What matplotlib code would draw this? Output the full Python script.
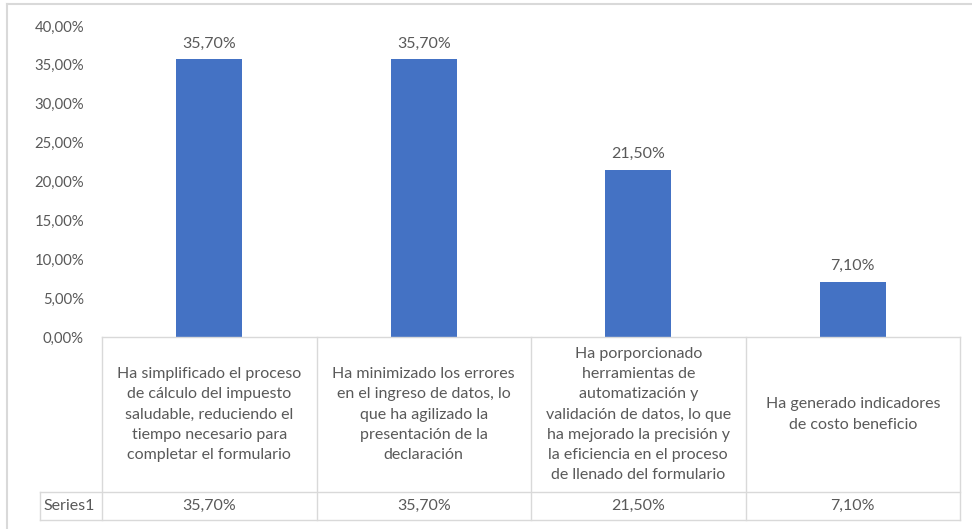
import matplotlib
matplotlib.use("Agg")
import matplotlib.pyplot as plt
from matplotlib.lines import Line2D
import numpy as np

CATEGORIES = [
    "Ha simplificado el proceso\nde cálculo del impuesto\nsaludable, reduciendo el\ntiempo necesario para\ncompletar el formulario",
    "Ha minimizado los errores\nen el ingreso de datos, lo\nque ha agilizado la\npresentación de la\ndeclaración",
    "Ha porporcionado\nherramientas de\nautomatización y\nvalidación de datos, lo que\nha mejorado la precisión y\nla eficiencia en el proceso\nde llenado del formulario",
    "Ha generado indicadores\nde costo beneficio",
]
VALUES = [35.70, 35.70, 21.50, 7.10]
SERIES_NAME = "Series1"
Y_TICKS = [0, 5, 10, 15, 20, 25, 30, 35, 40]

BAR_COLOR = "#4472C4"
TEXT_COLOR = "#595959"
LINE_COLOR = "#D9D9D9"
FONT = ["Lato", "DejaVu Sans"]

plt.rcParams["font.family"] = FONT


def pct(v):
    return f"{v:.2f}%".replace(".", ",")


W, H = 972, 529
fig = plt.figure(figsize=(W / 100, H / 100), dpi=100)

# plot area in pixels
x0, x1 = 102, 960
y_zero, y_top = 337, 26
ax = fig.add_axes([x0 / W, (H - y_zero) / H, (x1 - x0) / W, (y_zero - y_top) / H])

x = np.arange(len(VALUES))
ax.bar(x, VALUES, width=0.31, color=BAR_COLOR, zorder=2)
for xi, v in zip(x, VALUES):
    ax.annotate(pct(v), (xi, v), xytext=(0, 6.5), textcoords="offset points",
                ha="center", va="bottom", fontsize=11.5, color=TEXT_COLOR)

ax.set_xlim(-0.5, len(VALUES) - 0.5)
ax.set_ylim(0, 40)
ax.set_yticks(Y_TICKS)
ax.set_yticklabels([pct(t) for t in Y_TICKS])
ax.tick_params(axis="y", length=0, pad=13, labelsize=10.7, labelcolor=TEXT_COLOR)
ax.set_xticks([])
for s in ax.spines.values():
    s.set_visible(False)

# data table below the plot
unit = (x1 - x0) / len(VALUES)
t_left, t_bottom, row_split = 40, 520, 492
tab = fig.add_axes([t_left / W, (H - t_bottom) / H, (x1 - t_left) / W, (t_bottom - y_zero) / H])
left_lim = -0.5 - (x0 - t_left) / unit
tab.set_xlim(left_lim, len(VALUES) - 0.5)
tab.set_ylim(0, t_bottom - y_zero)
tab.axis("off")

h_series = t_bottom - row_split
h_total = t_bottom - y_zero
lw = 1.0
# horizontal lines
tab.plot([-0.5, len(VALUES) - 0.5], [h_total, h_total], color=LINE_COLOR, lw=lw, clip_on=False)
tab.plot([left_lim, len(VALUES) - 0.5], [h_series, h_series], color=LINE_COLOR, lw=lw, clip_on=False)
tab.plot([left_lim, len(VALUES) - 0.5], [0, 0], color=LINE_COLOR, lw=lw, clip_on=False)
# vertical lines
tab.plot([left_lim, left_lim], [0, h_series], color=LINE_COLOR, lw=lw, clip_on=False)
for b in np.arange(len(VALUES) + 1) - 0.5:
    tab.plot([b, b], [0, h_total], color=LINE_COLOR, lw=lw, clip_on=False)

for xi, (cat, v) in enumerate(zip(CATEGORIES, VALUES)):
    tab.text(xi, (h_total + h_series) / 2, cat, ha="center", va="center",
             fontsize=11.5, color=TEXT_COLOR, linespacing=1.55)
    tab.text(xi, h_series / 2, pct(v), ha="center", va="center",
             fontsize=11.5, color=TEXT_COLOR)
tab.text(left_lim + 3 / unit, h_series / 2, SERIES_NAME, ha="left", va="center",
         fontsize=11.5, color=TEXT_COLOR)

# chart area border (left and top edges visible in the crop)
fig.add_artist(Line2D([7 / W, 7 / W], [0, (H - 4) / H], color=LINE_COLOR, lw=1.5))
fig.add_artist(Line2D([7 / W, 1], [(H - 4) / H, (H - 4) / H], color=LINE_COLOR, lw=1.5))

fig.savefig("out.png", dpi=100)
